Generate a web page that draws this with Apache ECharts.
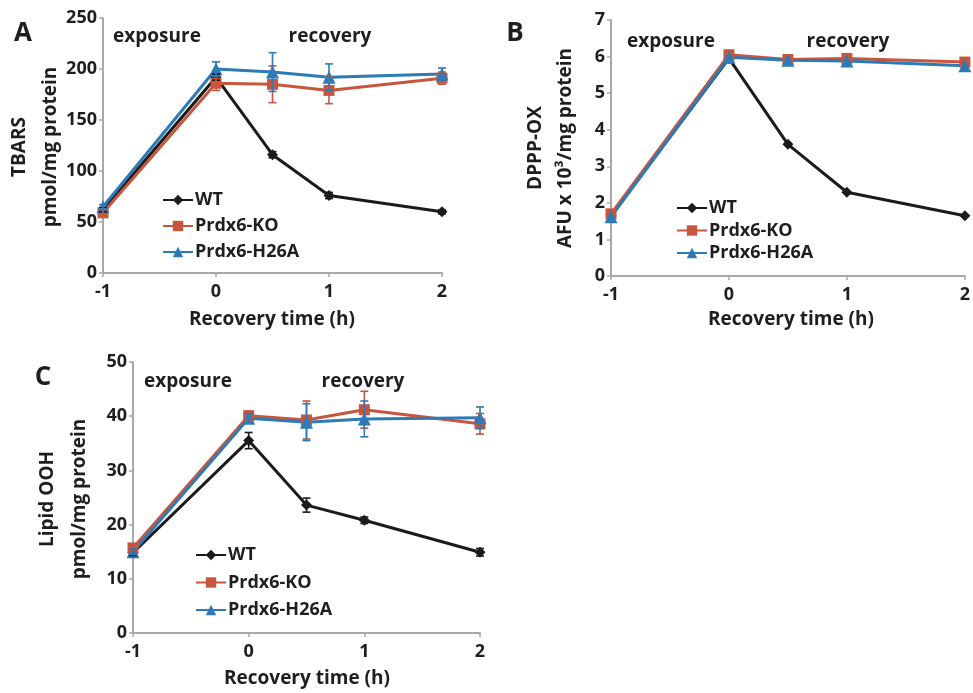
<!DOCTYPE html>
<html>
<head>
<meta charset="utf-8">
<script src="https://cdn.jsdelivr.net/npm/echarts@6/dist/echarts.min.js"></script>
<style>
  html, body { margin: 0; padding: 0; background: #fff; }
  #chart { width: 973px; height: 693px; }
</style>
</head>
<body>
<div id="chart"></div>
<script>
// sampling times (h), shared by all three panels
const times = [-1, 0, 0.5, 1, 2]
const xTicks = [-1, 0, 1, 2]

// A: TBARS
const wtA = [62, 192, 116, 76, 60]
const wtAErr = [2, 3, 3, 3, 2]
const koA = [59, 186, 185, 179, 191]
const koAErr = [3, 7, 18, 13, 6]
const mutA = [65, 200, 197, 192, 195]
const mutAErr = [2, 7, 19, 13, 6]

// B: DPPP-OX
const wtB = [1.65, 5.95, 3.6, 2.29, 1.65]
const koB = [1.7, 6.05, 5.92, 5.95, 5.85]
const mutB = [1.62, 5.98, 5.9, 5.88, 5.75]

// C: lipid OOH
const wtC = [14.8, 35.5, 23.6, 20.8, 14.9]
const wtCErr = [0.5, 1.5, 1.3, 0.6, 0.7]
const koC = [15.7, 40.1, 39.3, 41.2, 38.6]
const koCErr = [0.5, 0.8, 3.5, 3.4, 1.9]
const mutC = [15, 39.6, 38.9, 39.5, 39.7]
const mutCErr = [0.5, 0.8, 3.4, 3.3, 2]

const names = ['WT', 'Prdx6-KO', 'Prdx6-H26A']
const colors = { 'WT': '#1b1b1b', 'Prdx6-KO': '#c8553d', 'Prdx6-H26A': '#2c7bb6' }
const symbols = { 'WT': ['diamond', 11], 'Prdx6-KO': ['rect', 11], 'Prdx6-H26A': ['triangle', 13] }
const FONT = '"Open Sans", sans-serif'
const AXIS_GREY = '#a8a8a8'

function pairs(ys) {
  return times.map((t, i) => [t, ys[i]])
}

function lineSeries(name, ys, idx) {
  return {
    name,
    type: 'line',
    xAxisIndex: idx,
    yAxisIndex: idx,
    data: pairs(ys),
    symbol: symbols[name][0],
    symbolSize: symbols[name][1],
    showAllSymbol: true,
    color: colors[name],
    lineStyle: { color: colors[name], width: 3 },
    itemStyle: { color: colors[name] },
    animation: false,
    z: 3,
  }
}

function errSeries(name, ys, errs, idx) {
  return {
    name: name + ' err ' + idx,
    type: 'custom',
    xAxisIndex: idx,
    yAxisIndex: idx,
    data: times.map((t, i) => [t, ys[i], errs[i]]),
    encode: { x: 0, y: 1 },
    animation: false,
    silent: true,
    z: 4,
    renderItem(params, api) {
      const x = api.value(0), y = api.value(1), e = api.value(2)
      const lo = api.coord([x, y - e])
      const hi = api.coord([x, y + e])
      const style = { stroke: colors[name], lineWidth: 1.6 }
      return {
        type: 'group',
        children: [
          { type: 'line', shape: { x1: lo[0], y1: lo[1], x2: hi[0], y2: hi[1] }, style },
          { type: 'line', shape: { x1: lo[0] - 4, y1: lo[1], x2: lo[0] + 4, y2: lo[1] }, style },
          { type: 'line', shape: { x1: hi[0] - 4, y1: hi[1], x2: hi[0] + 4, y2: hi[1] }, style },
        ],
      }
    },
  }
}

function xAxis(idx) {
  return {
    type: 'value',
    gridIndex: idx,
    min: -1,
    max: 2,
    interval: 1,
    axisLine: { onZero: false, lineStyle: { color: AXIS_GREY, width: 2 } },
    axisTick: { show: true, length: 4, lineStyle: { color: AXIS_GREY, width: 1.5 } },
    splitLine: { show: false },
    axisLabel: {
      color: '#1e1e1e', fontSize: 18, fontWeight: 'bold', fontFamily: FONT, margin: 10,
      formatter: v => xTicks.includes(v) ? String(v) : '',
    },
  }
}

function yAxis(idx, max, interval) {
  return {
    type: 'value',
    gridIndex: idx,
    min: 0,
    max,
    interval,
    axisLine: { show: true, onZero: false, lineStyle: { color: AXIS_GREY, width: 2 } },
    axisTick: { show: true, length: 4, lineStyle: { color: AXIS_GREY, width: 1.5 } },
    splitLine: { show: false },
    axisLabel: { color: '#1e1e1e', fontSize: 18, fontWeight: 'bold', fontFamily: FONT, margin: 6 },
  }
}

function legend(left, top, gap) {
  return {
    data: names,
    orient: 'vertical',
    left,
    top,
    itemWidth: 30,
    itemHeight: 13,
    itemGap: gap,
    selectedMode: false,
    textStyle: { color: '#1e1e1e', fontSize: 18, fontWeight: 'bold', fontFamily: FONT, lineHeight: 18, padding: [0, 0, 0, -3] },
  }
}

function text(x, y, str, size, rot) {
  return {
    type: 'text',
    x, y,
    rotation: rot || 0,
    silent: true,
    style: {
      text: str,
      fill: '#1e1e1e',
      font: 'bold ' + size + 'px ' + FONT,
      textAlign: 'center',
      textVerticalAlign: 'middle',
    },
  }
}

const R = Math.PI / 2

const option = {
  backgroundColor: '#fff',
  animation: false,
  grid: [
    { left: 103, top: 18, width: 339, height: 255 },
    { left: 611, top: 20, width: 356, height: 256 },
    { left: 133, top: 362, width: 347, height: 271 },
  ],
  xAxis: [xAxis(0), xAxis(1), xAxis(2)],
  yAxis: [yAxis(0, 250, 50), yAxis(1, 7, 1), yAxis(2, 50, 10)],
  legend: [legend(157, 186, 8), legend(671, 194, 4.5), legend(190, 541, 9.5)],
  series: [
    lineSeries('WT', wtA, 0),
    lineSeries('Prdx6-KO', koA, 0),
    lineSeries('Prdx6-H26A', mutA, 0),
    errSeries('WT', wtA, wtAErr, 0),
    errSeries('Prdx6-KO', koA, koAErr, 0),
    errSeries('Prdx6-H26A', mutA, mutAErr, 0),

    lineSeries('WT', wtB, 1),
    lineSeries('Prdx6-KO', koB, 1),
    lineSeries('Prdx6-H26A', mutB, 1),

    lineSeries('WT', wtC, 2),
    lineSeries('Prdx6-KO', koC, 2),
    lineSeries('Prdx6-H26A', mutC, 2),
    errSeries('WT', wtC, wtCErr, 2),
    errSeries('Prdx6-KO', koC, koCErr, 2),
    errSeries('Prdx6-H26A', mutC, mutCErr, 2),
  ],
  graphic: [
    // panel letters
    text(23, 34, 'A', 26),
    text(515, 34, 'B', 26),
    text(43, 378, 'C', 26),
    // phase labels
    text(157, 37, 'exposure', 19),
    text(330, 37, 'recovery', 19),
    text(671, 42, 'exposure', 19),
    text(848, 42, 'recovery', 19),
    text(188, 382, 'exposure', 19),
    text(363, 382, 'recovery', 19),
    // axis titles
    text(272, 320, 'Recovery time (h)', 19),
    text(791, 320, 'Recovery time (h)', 19),
    text(307, 679, 'Recovery time (h)', 19),
    text(20, 147, 'TBARS', 19, R),
    text(51, 147, 'pmol/mg protein', 19, R),
    text(536, 148, 'DPPP-OX', 19, R),
    text(566, 148, 'AFU x 10³/mg protein', 19, R),
    text(48, 499, 'Lipid OOH', 19, R),
    text(80, 499, 'pmol/mg protein', 19, R),
  ],
}

const chart = echarts.init(document.getElementById('chart'), null, { renderer: 'canvas' })
chart.setOption(option)
</script>
</body>
</html>
